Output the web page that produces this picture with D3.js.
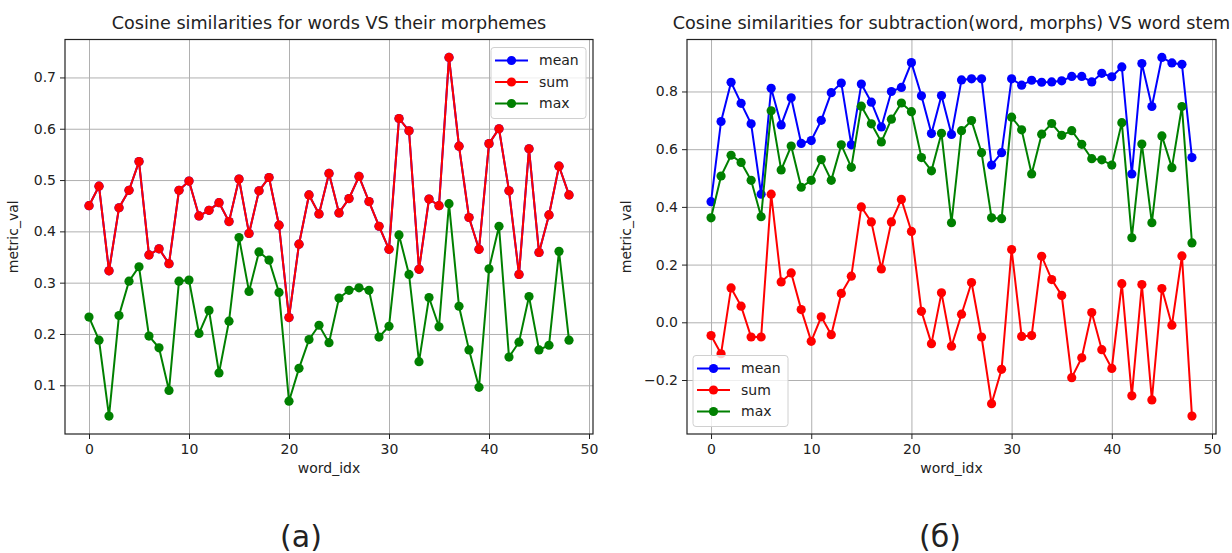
<!DOCTYPE html>
<html>
<head>
<meta charset="utf-8">
<script src="https://cdn.jsdelivr.net/npm/d3@7/dist/d3.min.js"></script>
<style>
  body { margin: 0; background: #fff; }
  svg text { font-family: "DejaVu Sans", sans-serif; fill: #222; }
  .axis .tick line { stroke: #222; }
  .grid .tick line { stroke: #b0b0b0; stroke-width: 1; }
  .domain { display: none; }
</style>
</head>
<body>
<svg id="chart" width="1232" height="553"></svg>
<script>
// word index on the x axis (0..48)
var wordIdx = d3.range(0, 49);

// (a) words VS their morphemes
var meanA = [0.450, 0.488, 0.323, 0.446, 0.480, 0.536, 0.354, 0.366, 0.337, 0.480,
             0.498, 0.430, 0.441, 0.456, 0.419, 0.502, 0.396, 0.479, 0.505, 0.412,
             0.232, 0.375, 0.471, 0.434, 0.513, 0.436, 0.464, 0.507, 0.458, 0.410,
             0.365, 0.620, 0.596, 0.326, 0.463, 0.450, 0.739, 0.566, 0.427, 0.365,
             0.571, 0.600, 0.479, 0.316, 0.561, 0.359, 0.432, 0.527, 0.471];
var sumA  = [0.450, 0.488, 0.323, 0.446, 0.480, 0.536, 0.354, 0.366, 0.337, 0.480,
             0.498, 0.430, 0.441, 0.456, 0.419, 0.502, 0.396, 0.479, 0.505, 0.412,
             0.232, 0.375, 0.471, 0.434, 0.513, 0.436, 0.464, 0.507, 0.458, 0.410,
             0.365, 0.620, 0.596, 0.326, 0.463, 0.450, 0.739, 0.566, 0.427, 0.365,
             0.571, 0.600, 0.479, 0.316, 0.561, 0.359, 0.432, 0.527, 0.471];
var maxA  = [0.233, 0.188, 0.040, 0.236, 0.303, 0.331, 0.196, 0.173, 0.090, 0.303,
             0.305, 0.201, 0.246, 0.124, 0.225, 0.388, 0.283, 0.360, 0.344, 0.281,
             0.069, 0.133, 0.189, 0.217, 0.183, 0.270, 0.285, 0.290, 0.285, 0.194,
             0.215, 0.393, 0.316, 0.146, 0.271, 0.214, 0.454, 0.254, 0.169, 0.096,
             0.327, 0.410, 0.155, 0.184, 0.273, 0.169, 0.178, 0.361, 0.188];

// (б) subtraction(word, morphs) VS word stem
var meanB = [0.418, 0.696, 0.832, 0.759, 0.688, 0.444, 0.811, 0.684, 0.778, 0.620,
             0.630, 0.700, 0.796, 0.829, 0.615, 0.826, 0.763, 0.677, 0.800, 0.814,
             0.900, 0.785, 0.654, 0.786, 0.651, 0.840, 0.844, 0.844, 0.545, 0.588,
             0.844, 0.822, 0.839, 0.832, 0.833, 0.837, 0.852, 0.852, 0.833, 0.863,
             0.851, 0.885, 0.514, 0.897, 0.748, 0.918, 0.899, 0.894, 0.571];
var sumB  = [-0.046, -0.109, 0.119, 0.056, -0.051, -0.051, 0.444, 0.140, 0.171, 0.044,
             -0.066, 0.019, -0.043, 0.100, 0.160, 0.400, 0.348, 0.185, 0.348, 0.426,
             0.315, 0.038, -0.074, 0.102, -0.083, 0.028, 0.138, -0.051, -0.282, -0.163,
             0.252, -0.049, -0.046, 0.229, 0.148, 0.093, -0.192, -0.123, 0.034, -0.095,
             -0.160, 0.134, -0.255, 0.131, -0.269, 0.117, -0.010, 0.230, -0.325];
var maxB  = [0.362, 0.507, 0.579, 0.554, 0.492, 0.366, 0.733, 0.528, 0.611, 0.468,
             0.492, 0.564, 0.492, 0.615, 0.537, 0.749, 0.688, 0.625, 0.704, 0.760,
             0.730, 0.571, 0.525, 0.655, 0.345, 0.664, 0.699, 0.588, 0.362, 0.359,
             0.711, 0.667, 0.514, 0.652, 0.689, 0.648, 0.664, 0.617, 0.567, 0.563,
             0.545, 0.692, 0.293, 0.618, 0.345, 0.646, 0.536, 0.748, 0.275];

var seriesNames = ["mean", "sum", "max"];
var seriesColors = ["#0000ff", "#ff0000", "#008000"];

var xTicks = [0, 10, 20, 30, 40, 50];
var yTicksA = [0.1, 0.2, 0.3, 0.4, 0.5, 0.6, 0.7];
var yTicksB = [-0.2, 0.0, 0.2, 0.4, 0.6, 0.8];

var svg = d3.select("#chart");

function drawPanel(opts) {
    var w = opts.right - opts.left, h = opts.bottom - opts.top;
    var g = svg.append("g").attr("transform", `translate(${opts.left},${opts.top})`);

    var allVals = d3.merge(opts.series);
    var yMin = d3.min(allVals), yMax = d3.max(allVals);
    var yPad = (yMax - yMin) * 0.05; // matplotlib default margins
    var xPad = (d3.max(wordIdx) - d3.min(wordIdx)) * 0.05;

    var x = d3.scaleLinear().domain([d3.min(wordIdx) - xPad, d3.max(wordIdx) + xPad]).range([0, w]);
    var y = d3.scaleLinear().domain([yMin - yPad, yMax + yPad]).range([h, 0]);

    // grid
    g.append("g").attr("class", "grid").attr("transform", `translate(0,${h})`)
        .call(d3.axisBottom(x).tickValues(xTicks).tickSize(-h).tickFormat(""));
    g.append("g").attr("class", "grid")
        .call(d3.axisLeft(y).tickValues(opts.yTicks).tickSize(-w).tickFormat(""));

    // axes
    var xa = g.append("g").attr("class", "axis").attr("transform", `translate(0,${h})`)
        .call(d3.axisBottom(x).tickValues(xTicks).tickSize(5).tickPadding(4).tickFormat(d3.format("d")));
    xa.selectAll("text").attr("font-size", 14).attr("dy", "0.8em");
    var ya = g.append("g").attr("class", "axis")
        .call(d3.axisLeft(y).tickValues(opts.yTicks).tickSize(5).tickPadding(4).tickFormat(d3.format(".1f")));
    ya.selectAll("text").attr("font-size", 14);

    // lines + markers
    var line = d3.line().x((d, i) => x(wordIdx[i])).y(d => y(d));
    opts.series.forEach(function (vals, s) {
        g.append("path")
            .datum(vals)
            .attr("d", line)
            .attr("fill", "none")
            .attr("stroke", seriesColors[s])
            .attr("stroke-width", 2);
        g.append("g").selectAll("circle")
            .data(vals)
            .enter()
            .append("circle")
            .attr("cx", (d, i) => x(wordIdx[i]))
            .attr("cy", d => y(d))
            .attr("r", 4.6)
            .attr("fill", seriesColors[s]);
    });

    // frame
    g.append("rect").attr("width", w).attr("height", h)
        .attr("fill", "none").attr("stroke", "#222").attr("stroke-width", 1.2);

    // title and axis labels
    g.append("text").attr("x", w / 2).attr("y", -11)
        .attr("text-anchor", "middle").attr("font-size", opts.titleSize)
        .text(opts.title);
    g.append("text").attr("x", w / 2).attr("y", h + 39)
        .attr("text-anchor", "middle").attr("font-size", 14)
        .text("word_idx");
    g.append("text")
        .attr("transform", `translate(${opts.yLabelX},${h / 2}) rotate(-90)`)
        .attr("text-anchor", "middle").attr("font-size", 14)
        .text("metric_val");

    // legend
    var lg = g.append("g").attr("transform", `translate(${opts.legendX},${opts.legendY})`);
    lg.append("rect").attr("width", 95).attr("height", 71).attr("rx", 3)
        .attr("fill", "#fff").attr("fill-opacity", 0.8)
        .attr("stroke", "#d0d0d0");
    seriesNames.forEach(function (name, s) {
        var ry = 13 + s * 21.5;
        lg.append("line").attr("x1", 4).attr("x2", 37).attr("y1", ry).attr("y2", ry)
            .attr("stroke", seriesColors[s]).attr("stroke-width", 2);
        lg.append("circle").attr("cx", 20.5).attr("cy", ry).attr("r", 4.6).attr("fill", seriesColors[s]);
        lg.append("text").attr("x", 48).attr("y", ry).attr("dy", "0.35em")
            .attr("font-size", 14).text(name);
    });

    // panel caption
    svg.append("text").attr("x", opts.captionX).attr("y", 547)
        .attr("text-anchor", "middle")
        .attr("font-family", "'Open Sans', sans-serif")
        .attr("font-size", 30)
        .text(opts.caption);
}

drawPanel({
    left: 65, right: 593, top: 39.5, bottom: 434,
    series: [meanA, sumA, maxA], yTicks: yTicksA,
    title: "Cosine similarities for words VS their morphemes", titleSize: 17.6,
    yLabelX: -47, legendX: 426, legendY: 8,
    caption: "(a)", captionX: 301
});

drawPanel({
    left: 687, right: 1216, top: 39.5, bottom: 434,
    series: [meanB, sumB, maxB], yTicks: yTicksB,
    title: "Cosine similarities for subtraction(word, morphs) VS word stem", titleSize: 17.6,
    yLabelX: -56, legendX: 6, legendY: 316,
    caption: "(б)", captionX: 940
});
</script>
</body>
</html>
